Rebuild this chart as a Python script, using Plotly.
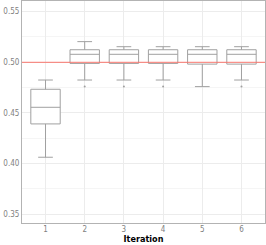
import plotly.graph_objects as go

iterations = [1, 2, 3, 4, 5, 6]
lower_whisker = [0.4063, 0.4825, 0.4825, 0.4825, 0.4760, 0.4825]
q1 = [0.4392, 0.4989, 0.4989, 0.4989, 0.4982, 0.4982]
median = [0.4556, 0.5079, 0.5079, 0.5079, 0.5079, 0.5079]
q3 = [0.4734, 0.5124, 0.5124, 0.5124, 0.5124, 0.5124]
upper_whisker = [0.4825, 0.5204, 0.5154, 0.5154, 0.5154, 0.5154]
outlier_x = [2, 3, 4, 6]
outlier_y = [0.4760, 0.4760, 0.4760, 0.4760]
reference_value = 0.50
y_ticks = [0.35, 0.40, 0.45, 0.50, 0.55]

FONT = "DejaVu Sans Condensed, Liberation Sans Narrow, Arial Narrow, sans-serif"

fig = go.Figure()
fig.add_trace(go.Box(
    x=iterations, q1=q1, median=median, q3=q3,
    lowerfence=lower_whisker, upperfence=upper_whisker,
    fillcolor="white", line=dict(color="#a0a0a0", width=1),
    width=0.75, boxpoints=False, showlegend=False,
))
fig.add_trace(go.Scatter(
    x=outlier_x, y=outlier_y, mode="markers",
    marker=dict(color="#a0a0a0", size=2), showlegend=False,
))
fig.add_hline(y=reference_value, line=dict(color="#F8766D", width=1), layer="above")

fig.update_layout(
    width=266, height=245,
    margin=dict(l=22, r=1, t=1, b=22, autoexpand=False),
    plot_bgcolor="white", paper_bgcolor="white",
    font=dict(family=FONT, size=8, color="#7f7f7f"),
)
fig.update_xaxes(
    range=[0.4, 6.6], tickvals=iterations, ticktext=[str(i) for i in iterations],
    showgrid=True, gridcolor="#ececec", gridwidth=1,
    showline=True, linecolor="#b3b3b3", mirror=True, linewidth=1,
    zeroline=False, ticks="", ticklen=0, ticklabelstandoff=-2,
    title=dict(text="<b>Iteration</b>", font=dict(family=FONT, size=9, color="black"), standoff=0),
)
fig.update_yaxes(
    range=[0.3414, 0.5605], tickvals=y_ticks, ticktext=[f"{v:.2f}" for v in y_ticks],
    showgrid=True, gridcolor="#ececec", gridwidth=1,
    minor=dict(tickvals=[0.375, 0.425, 0.475, 0.525], showgrid=True, gridcolor="#f5f5f5", gridwidth=1),
    showline=True, linecolor="#b3b3b3", mirror=True, linewidth=1,
    zeroline=False, ticks="", ticklen=0,
)
fig.write_html("out.html", config={"displayModeBar": False},
               post_script="document.body.style.margin='0';")
